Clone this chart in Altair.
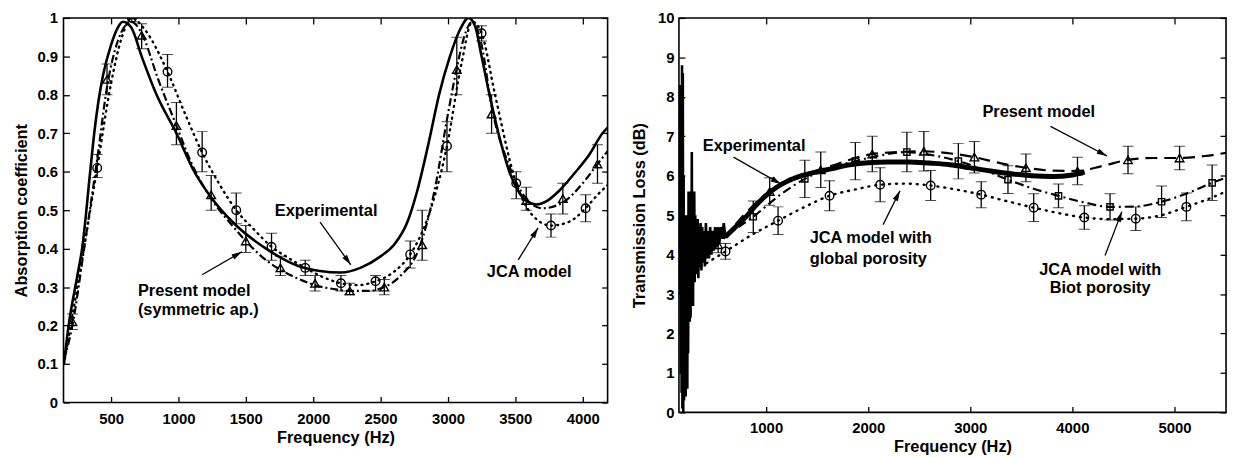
import math
import altair as alt
import pandas as pd

FONT = "Liberation Sans"
BLACK = "#000000"

# ---------------- Left panel: absorption coefficient ----------------
abs_x_domain = [147, 4185]
abs_y_domain = [0, 1]
abs_xticks = [500, 1000, 1500, 2000, 2500, 3000, 3500, 4000]
abs_yticks = [0, 0.1, 0.2, 0.3, 0.4, 0.5, 0.6, 0.7, 0.8, 0.9, 1.0]

abs_exp_f = [150, 185, 250, 285, 345, 375, 405, 440, 500, 550, 588, 650, 727, 838, 985, 1118, 1250,
             1400, 1650, 1890, 2050, 2206, 2350, 2500, 2600, 2700, 2772, 2860, 2934, 3015, 3090,
             3154, 3200, 3250, 3309, 3375, 3456, 3522, 3580, 3654, 3740, 3824, 3949, 4050, 4147, 4200]
abs_exp_a = [0.10, 0.20, 0.33, 0.40, 0.60, 0.70, 0.78, 0.85, 0.93, 0.975, 0.99, 0.975, 0.90, 0.80,
             0.70, 0.60, 0.53, 0.47, 0.40, 0.355, 0.342, 0.338, 0.35, 0.38, 0.41, 0.47, 0.55, 0.68,
             0.80, 0.90, 0.97, 1.0, 0.98, 0.90, 0.80, 0.70, 0.60, 0.55, 0.525, 0.515, 0.525, 0.55,
             0.60, 0.645, 0.70, 0.72]

abs_pm_f = [150, 213, 300, 400, 470, 550, 650, 727, 850, 985, 1100, 1243, 1400, 1500, 1650, 1757,
            1900, 2014, 2150, 2271, 2400, 2528, 2650, 2785, 2900, 3000, 3066, 3120, 3180, 3250,
            3324, 3450, 3581, 3700, 3853, 4000, 4110, 4200]
abs_pm_a = [0.11, 0.20, 0.40, 0.64, 0.82, 0.94, 0.99, 0.96, 0.84, 0.72, 0.62, 0.53, 0.46, 0.42,
            0.37, 0.345, 0.32, 0.305, 0.295, 0.29, 0.29, 0.30, 0.33, 0.40, 0.55, 0.75, 0.87, 0.95,
            0.99, 0.93, 0.77, 0.62, 0.53, 0.505, 0.52, 0.57, 0.62, 0.66]

abs_jca_f = [150, 250, 397, 500, 580, 654, 750, 919, 1050, 1176, 1300, 1429, 1560, 1691, 1820, 1941,
             2080, 2206, 2330, 2463, 2600, 2720, 2850, 2993, 3100, 3180, 3250, 3350, 3507, 3620,
             3765, 3900, 4022, 4110, 4200]
abs_jca_a = [0.10, 0.30, 0.61, 0.83, 0.95, 1.0, 0.97, 0.86, 0.75, 0.65, 0.57, 0.50, 0.45, 0.405,
             0.375, 0.35, 0.325, 0.31, 0.305, 0.315, 0.34, 0.385, 0.48, 0.667, 0.88, 0.99, 0.96,
             0.80, 0.57, 0.49, 0.46, 0.47, 0.505, 0.54, 0.57]

abs_tri_f = [213, 470, 727, 985, 1243, 1500, 1757, 2014, 2271, 2528, 2809, 3066, 3324, 3581, 3853, 4110]
abs_tri_a = [0.21, 0.84, 0.955, 0.72, 0.54, 0.42, 0.35, 0.31, 0.29, 0.30, 0.41, 0.866, 0.75, 0.525, 0.53, 0.62]
abs_tri_lo = [0.19, 0.80, 0.92, 0.67, 0.50, 0.39, 0.33, 0.29, 0.28, 0.28, 0.37, 0.80, 0.70, 0.50, 0.49, 0.57]
abs_tri_hi = [0.23, 0.88, 0.985, 0.78, 0.59, 0.46, 0.38, 0.33, 0.31, 0.32, 0.50, 0.95, 0.80, 0.56, 0.57, 0.67]

abs_circ_f = [397, 654, 919, 1176, 1429, 1691, 1941, 2206, 2463, 2720, 2993, 3250, 3507, 3765, 4022]
abs_circ_a = [0.61, 1.0, 0.86, 0.65, 0.50, 0.405, 0.35, 0.31, 0.315, 0.385, 0.667, 0.96, 0.57, 0.46, 0.505]
abs_circ_lo = [0.585, 0.99, 0.82, 0.60, 0.465, 0.37, 0.33, 0.29, 0.29, 0.35, 0.60, 0.94, 0.53, 0.43, 0.47]
abs_circ_hi = [0.645, 1.0, 0.905, 0.705, 0.545, 0.44, 0.37, 0.33, 0.33, 0.42, 0.73, 0.98, 0.60, 0.49, 0.54]

abs_text = ["Experimental", "Present model", "(symmetric ap.)", "JCA model"]
abs_text_f = [2096, 699, 699, 3603]
abs_text_a = [0.497, 0.289, 0.240, 0.340]
abs_text_align = ["center", "left", "left", "center"]

abs_arrow_f1 = [2051, 1176, 3522]
abs_arrow_a1 = [0.469, 0.332, 0.371]
abs_arrow_f2 = [2279, 1471, 3669]
abs_arrow_a2 = [0.358, 0.392, 0.454]

# ---------------- Right panel: transmission loss ----------------
tl_x_domain = [146, 5505]
tl_y_domain = [0, 10]
tl_xticks = [1000, 2000, 3000, 4000, 5000]
tl_yticks = [0, 1, 2, 3, 4, 5, 6, 7, 8, 9, 10]

tl_noise_f = [148, 152, 156, 160, 164, 168, 172, 176, 180, 184, 188, 192, 196, 200, 204, 208, 212,
              216, 220, 224, 228, 232, 236, 240, 244, 248, 252, 256, 260, 264, 268, 272, 276, 280,
              284, 288, 292, 296, 300, 306, 312, 318, 324, 330, 336, 342, 350, 358, 366, 374, 382,
              390, 400, 410, 420, 430, 440, 452, 464, 476, 488, 500, 514, 528, 542, 556, 570, 585, 600]
tl_noise_v = [4.2, 6.5, 3.0, 8.3, 1.0, 7.0, 0.5, 8.8, 0.1, 8.6, 0.0, 6.0, 0.3, 5.0, 1.0, 4.6, 0.4,
              4.4, 1.2, 5.0, 0.6, 4.5, 1.5, 5.6, 2.5, 4.8, 2.3, 5.2, 2.4, 5.6, 3.0, 6.6, 3.2, 5.3,
              2.7, 4.9, 3.4, 5.6, 3.3, 5.0, 3.5, 4.8, 3.6, 4.9, 3.4, 4.7, 3.7, 4.8, 3.6, 4.7, 3.8,
              4.6, 3.7, 4.8, 3.9, 4.6, 3.9, 4.7, 4.0, 4.6, 4.1, 4.7, 4.2, 4.7, 4.3, 4.7, 4.4, 4.8, 4.45]

tl_exp_f = [600, 700, 800, 900, 1000, 1100, 1200, 1350, 1500, 1650, 1800, 2000, 2200, 2400, 2600,
            2800, 3000, 3200, 3400, 3600, 3800, 4000, 4120]
tl_exp_v = [4.45, 4.7, 4.95, 5.25, 5.5, 5.7, 5.85, 6.0, 6.1, 6.18, 6.27, 6.33, 6.35, 6.35, 6.32,
            6.28, 6.2, 6.12, 6.05, 6.0, 5.98, 6.02, 6.1]

tl_pm_f = [300, 530, 780, 1035, 1290, 1535, 1790, 2040, 2290, 2545, 2790, 3040, 3290, 3545, 3800,
           4050, 4300, 4545, 4800, 5050, 5300, 5505]
tl_pm_v = [3.8, 4.25, 5.0, 5.6, 5.92, 6.15, 6.38, 6.55, 6.6, 6.62, 6.57, 6.47, 6.32, 6.2, 6.13,
           6.12, 6.25, 6.4, 6.45, 6.45, 6.5, 6.58]

tl_biot_f = [300, 370, 620, 874, 1130, 1379, 1630, 1874, 2130, 2379, 2630, 2883, 3130, 3369, 3620,
             3864, 4120, 4369, 4620, 4874, 5120, 5369, 5505]
tl_biot_v = [3.8, 4.0, 4.5, 4.96, 5.5, 5.92, 6.2, 6.37, 6.52, 6.6, 6.52, 6.37, 6.15, 5.9, 5.67,
             5.49, 5.32, 5.21, 5.22, 5.34, 5.55, 5.82, 5.95]

tl_glob_f = [300, 602, 860, 1117, 1370, 1621, 1870, 2117, 2365, 2612, 2860, 3107, 3365, 3621, 3870,
             4117, 4370, 4621, 4870, 5117, 5370, 5505]
tl_glob_v = [3.6, 4.08, 4.5, 4.86, 5.2, 5.49, 5.65, 5.77, 5.8, 5.75, 5.65, 5.52, 5.35, 5.19, 5.05,
             4.94, 4.9, 4.91, 5.0, 5.21, 5.45, 5.6]

tl_tri_f = [530, 1035, 1535, 2040, 2545, 3040, 3545, 4050, 4545, 5050]
tl_tri_v = [4.25, 5.6, 6.15, 6.55, 6.62, 6.47, 6.2, 6.12, 6.4, 6.45]
tl_tri_e = [0.2, 0.35, 0.45, 0.45, 0.5, 0.4, 0.35, 0.35, 0.35, 0.3]

tl_sq_f = [370, 874, 1379, 1874, 2379, 2883, 3369, 3864, 4369, 4874, 5369]
tl_sq_v = [4.0, 4.96, 5.92, 6.37, 6.6, 6.37, 5.9, 5.49, 5.21, 5.34, 5.82]
tl_sq_e = [0.2, 0.4, 0.47, 0.47, 0.5, 0.45, 0.35, 0.3, 0.33, 0.4, 0.45]

tl_circ_f = [602, 1117, 1621, 2117, 2612, 3107, 3621, 4117, 4621, 5117]
tl_circ_v = [4.08, 4.86, 5.49, 5.77, 5.75, 5.52, 5.19, 4.94, 4.91, 5.21]
tl_circ_e = [0.2, 0.35, 0.38, 0.43, 0.38, 0.33, 0.35, 0.3, 0.3, 0.35]

tl_text = ["Experimental", "Present model", "JCA model with", "global porosity",
           "JCA model with", "Biot porosity"]
tl_text_f = [883, 3670, 1427, 1427, 4272, 4272]
tl_text_v = [6.75, 7.61, 4.41, 3.90, 3.60, 3.15]
tl_text_align = ["center", "center", "left", "left", "center", "center"]

tl_arrow_f1 = [680, 3786, 2146, 4320]
tl_arrow_v1 = [6.47, 7.25, 4.76, 3.98]
tl_arrow_f2 = [1146, 4340, 2311, 4485]
tl_arrow_v2 = [5.79, 6.5, 5.62, 5.09]

ARROW_PATH = "M0,0L0.55,2L-0.55,2Z"


def make_panel(w, h, xdom, ydom, xticks, yticks, xtitle, ytitle, yfmt, ylabpad, ytitlepad,
               xlabpad, lines, markers, texts, arrows):
    xs = alt.Scale(domain=xdom, nice=False, zero=False)
    ys = alt.Scale(domain=ydom, nice=False, zero=False)
    layers = []

    # axes (inward ticks via negative offset)
    ax_df = pd.DataFrame({"f": [xticks[0]], "v": [ydom[0]]})
    common = dict(labelFont=FONT, labelFontSize=15, labelFontWeight="bold", labelColor=BLACK,
                  titleFont=FONT, titleFontSize=16.5, titleFontWeight="bold", titleColor=BLACK,
                  tickColor=BLACK, tickWidth=1.3, tickSize=6, offset=-6, domain=False, grid=False)
    layers.append(
        alt.Chart(ax_df).mark_point(opacity=0).encode(
            x=alt.X("f:Q", scale=xs, axis=alt.Axis(orient="bottom", values=xticks, title=xtitle,
                                                    labelPadding=xlabpad, titlePadding=3,
                                                    format="d", **common)),
            y=alt.Y("v:Q", scale=ys, axis=alt.Axis(orient="left", values=yticks, title=ytitle,
                                                    labelPadding=ylabpad, titlePadding=ytitlepad,
                                                    format=yfmt, **common)),
        )
    )
    layers.append(
        alt.Chart(ax_df).mark_point(opacity=0).encode(
            x=alt.X("f:Q", scale=xs, axis=alt.Axis(orient="top", values=xticks, labels=False,
                                                    title=None, **common)),
            y=alt.Y("v:Q", scale=ys, axis=alt.Axis(orient="right", values=yticks, labels=False,
                                                    title=None, **common)),
        )
    )

    for f, v, props in lines:
        df = pd.DataFrame({"f": f, "v": v})
        layers.append(
            alt.Chart(df).mark_line(color=BLACK, clip=True, **props).encode(
                x=alt.X("f:Q", scale=xs, axis=None), y=alt.Y("v:Q", scale=ys, axis=None))
        )

    for f, v, lo, hi, shape, size in markers:
        df = pd.DataFrame({"f": f, "v": v, "lo": lo, "hi": hi})
        layers.append(
            alt.Chart(df).mark_errorbar(ticks={"size": 11, "color": BLACK, "strokeWidth": 1.3},
                                        rule={"color": BLACK, "strokeWidth": 1.3}, clip=True).encode(
                x=alt.X("f:Q", scale=xs, axis=None),
                y=alt.Y("lo:Q", scale=ys, axis=None, title=None), y2="hi:Q")
        )
        layers.append(
            alt.Chart(df).mark_point(shape=shape, size=size, color=BLACK, filled=False,
                                     strokeWidth=1.4, opacity=1, clip=True).encode(
                x=alt.X("f:Q", scale=xs, axis=None), y=alt.Y("v:Q", scale=ys, axis=None))
        )

    tf, tv, tt, ta = texts
    for align in ["left", "center"]:
        rows = [(a, b, c) for a, b, c, d in zip(tf, tv, tt, ta) if d == align]
        if not rows:
            continue
        df = pd.DataFrame(rows, columns=["f", "v", "t"])
        layers.append(
            alt.Chart(df).mark_text(font=FONT, fontSize=16.5, fontWeight="bold", color=BLACK,
                                    align=align, baseline="middle").encode(
                x=alt.X("f:Q", scale=xs, axis=None), y=alt.Y("v:Q", scale=ys, axis=None),
                text="t:N")
        )

    f1, v1, f2, v2 = arrows
    sx = w / (xdom[1] - xdom[0])
    sy = h / (ydom[1] - ydom[0])
    ang = [math.degrees(math.atan2((b2 - b1) * sx, (c2 - c1) * sy)) % 360
           for b1, c1, b2, c2 in zip(f1, v1, f2, v2)]
    adf = pd.DataFrame({"f1": f1, "v1": v1, "f2": f2, "v2": v2, "ang": ang})
    layers.append(
        alt.Chart(adf).mark_rule(color=BLACK, strokeWidth=1.3).encode(
            x=alt.X("f1:Q", scale=xs, axis=None), y=alt.Y("v1:Q", scale=ys, axis=None),
            x2="f2:Q", y2="v2:Q")
    )
    layers.append(
        alt.Chart(adf).mark_point(shape=ARROW_PATH, size=110, filled=True, color=BLACK,
                                  opacity=1, strokeWidth=0).encode(
            x=alt.X("f2:Q", scale=xs, axis=None), y=alt.Y("v2:Q", scale=ys, axis=None),
            angle=alt.Angle("ang:Q", scale=None))
    )

    return alt.layer(*layers).resolve_axis(x="independent", y="independent").properties(
        width=w, height=h)


left = make_panel(
    549, 388, abs_x_domain, abs_y_domain, abs_xticks, abs_yticks,
    "Frequency (Hz)", "Absorption coefficient", "~g", 6, 7, 9,
    lines=[
        (abs_exp_f, abs_exp_a, dict(strokeWidth=2.6, interpolate="monotone")),
        (abs_pm_f, abs_pm_a, dict(strokeWidth=2.2, interpolate="monotone", strokeDash=[8, 3, 2, 3])),
        (abs_jca_f, abs_jca_a, dict(strokeWidth=2.4, interpolate="monotone", strokeDash=[1, 5],
                                    strokeCap="round")),
    ],
    markers=[
        (abs_tri_f, abs_tri_a, abs_tri_lo, abs_tri_hi, "triangle-up", 75),
        (abs_circ_f, abs_circ_a, abs_circ_lo, abs_circ_hi, "circle", 75),
    ],
    texts=(abs_text_f, abs_text_a, abs_text, abs_text_align),
    arrows=(abs_arrow_f1, abs_arrow_a1, abs_arrow_f2, abs_arrow_a2),
)

right = make_panel(
    552, 398, tl_x_domain, tl_y_domain, tl_xticks, tl_yticks,
    "Frequency (Hz)", "Transmission Loss (dB)", "d", 5, 10, 8,
    lines=[
        (tl_noise_f, tl_noise_v, dict(strokeWidth=2.6, interpolate="linear")),
        (tl_exp_f, tl_exp_v, dict(strokeWidth=5, interpolate="monotone")),
        (tl_pm_f, tl_pm_v, dict(strokeWidth=2.2, interpolate="monotone", strokeDash=[12, 7])),
        (tl_biot_f, tl_biot_v, dict(strokeWidth=2.2, interpolate="monotone", strokeDash=[9, 4, 2, 4])),
        (tl_glob_f, tl_glob_v, dict(strokeWidth=2.4, interpolate="monotone", strokeDash=[1, 6],
                                    strokeCap="round")),
    ],
    markers=[
        (tl_tri_f, tl_tri_v, [a - b for a, b in zip(tl_tri_v, tl_tri_e)],
         [a + b for a, b in zip(tl_tri_v, tl_tri_e)], "triangle-up", 75),
        (tl_sq_f, tl_sq_v, [a - b for a, b in zip(tl_sq_v, tl_sq_e)],
         [a + b for a, b in zip(tl_sq_v, tl_sq_e)], "square", 40),
        (tl_circ_f, tl_circ_v, [a - b for a, b in zip(tl_circ_v, tl_circ_e)],
         [a + b for a, b in zip(tl_circ_v, tl_circ_e)], "circle", 75),
    ],
    texts=(tl_text_f, tl_text_v, tl_text, tl_text_align),
    arrows=(tl_arrow_f1, tl_arrow_v1, tl_arrow_f2, tl_arrow_v2),
)

chart = alt.hconcat(left, right, spacing=21).properties(
    padding={"left": 5, "top": 0, "right": 0, "bottom": 0},
    background="white",
).configure_view(stroke=BLACK, strokeWidth=1.6)

chart.save("out.html", embed_options={"renderer": "svg", "actions": False})
